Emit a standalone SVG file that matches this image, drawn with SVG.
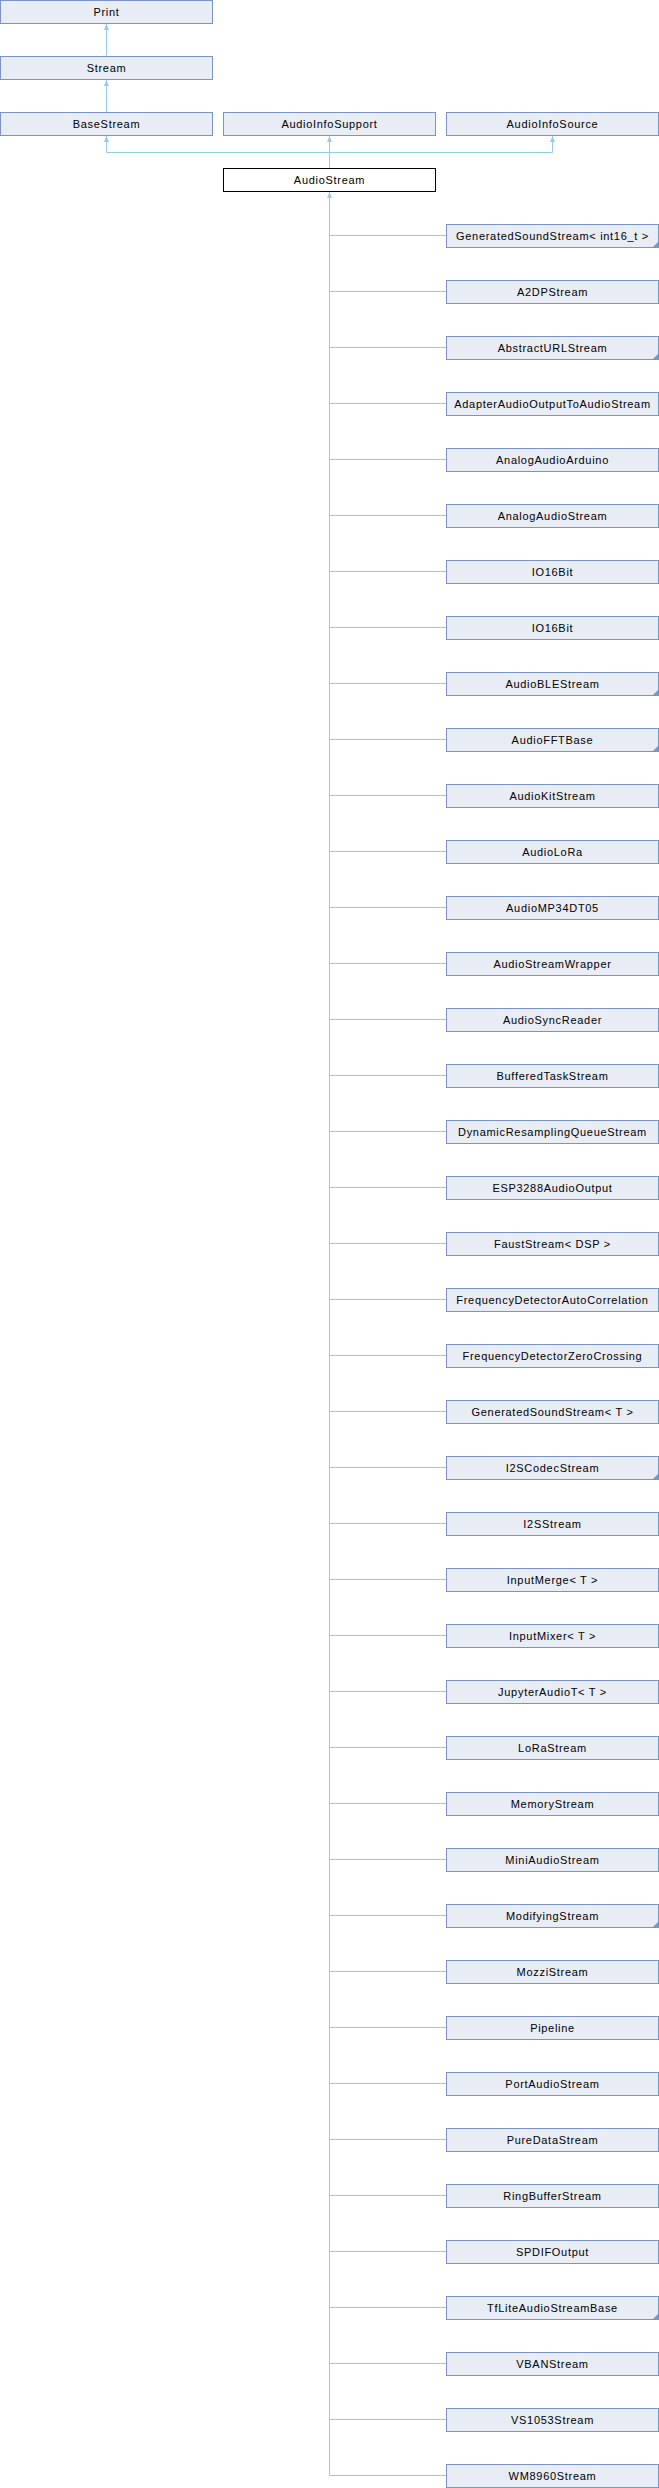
<svg xmlns="http://www.w3.org/2000/svg" width="659" height="2488" viewBox="0 0 659 2488">
<style>
.n rect{fill:#E8ECF5;stroke:#7B93C6;stroke-width:1}
.n.cur rect{fill:#FFFFFF;stroke:#000000}
.n text{font-family:"Liberation Sans",Arial,Helvetica,sans-serif;font-size:11px;letter-spacing:0.7px;fill:#000;text-anchor:middle}
.n polygon{fill:#7B93C6}
#edges path{fill:none;stroke:#93CBEB;stroke-width:1}
</style>
<defs>
<marker id="arr" markerUnits="userSpaceOnUse" viewBox="0 0 6 5" refX="6" refY="2.5" markerWidth="6" markerHeight="5" orient="auto">
<path d="M0,0 L6,2.5 L0,5 z" fill="#93CBEB"/>
</marker>
</defs>
<rect width="659" height="2488" fill="#FFFFFF"/>
<g id="edges">
<path d="M106.5,56 V24" marker-end="url(#arr)"/>
<path d="M106.5,112 V80" marker-end="url(#arr)"/>
<path d="M329.5,168 V136" marker-end="url(#arr)"/>
<path d="M329.5,152.5 H106.5 V136" marker-end="url(#arr)"/>
<path d="M329.5,152.5 H552.5 V136" marker-end="url(#arr)"/>
<path d="M446,2475.5 H329.5 V192" marker-end="url(#arr)"/>
<path d="M446,235.5 H329.5"/><path d="M446,291.5 H329.5"/><path d="M446,347.5 H329.5"/><path d="M446,403.5 H329.5"/>
<path d="M446,459.5 H329.5"/><path d="M446,515.5 H329.5"/><path d="M446,571.5 H329.5"/><path d="M446,627.5 H329.5"/>
<path d="M446,683.5 H329.5"/><path d="M446,739.5 H329.5"/><path d="M446,795.5 H329.5"/><path d="M446,851.5 H329.5"/>
<path d="M446,907.5 H329.5"/><path d="M446,963.5 H329.5"/><path d="M446,1019.5 H329.5"/><path d="M446,1075.5 H329.5"/>
<path d="M446,1131.5 H329.5"/><path d="M446,1187.5 H329.5"/><path d="M446,1243.5 H329.5"/><path d="M446,1299.5 H329.5"/>
<path d="M446,1355.5 H329.5"/><path d="M446,1411.5 H329.5"/><path d="M446,1467.5 H329.5"/><path d="M446,1523.5 H329.5"/>
<path d="M446,1579.5 H329.5"/><path d="M446,1635.5 H329.5"/><path d="M446,1691.5 H329.5"/><path d="M446,1747.5 H329.5"/>
<path d="M446,1803.5 H329.5"/><path d="M446,1859.5 H329.5"/><path d="M446,1915.5 H329.5"/><path d="M446,1971.5 H329.5"/>
<path d="M446,2027.5 H329.5"/><path d="M446,2083.5 H329.5"/><path d="M446,2139.5 H329.5"/><path d="M446,2195.5 H329.5"/>
<path d="M446,2251.5 H329.5"/><path d="M446,2307.5 H329.5"/><path d="M446,2363.5 H329.5"/><path d="M446,2419.5 H329.5"/>
</g>
<g id="Print" class="n"><rect x="0.5" y="0.5" width="212" height="23"/><text x="106.5" y="16">Print</text></g>
<g id="Stream" class="n"><rect x="0.5" y="56.5" width="212" height="23"/><text x="106.5" y="72">Stream</text></g>
<g id="BaseStream" class="n"><rect x="0.5" y="112.5" width="212" height="23"/><text x="106.5" y="128">BaseStream</text></g>
<g id="AudioInfoSupport" class="n"><rect x="223.5" y="112.5" width="212" height="23"/><text x="329.5" y="128">AudioInfoSupport</text></g>
<g id="AudioInfoSource" class="n"><rect x="446.5" y="112.5" width="212" height="23"/><text x="552.5" y="128">AudioInfoSource</text></g>
<g id="AudioStream" class="n cur"><rect x="223.5" y="168.5" width="212" height="23"/><text x="329.5" y="184">AudioStream</text></g>
<g id="c01" class="n"><rect x="446.5" y="224.5" width="212" height="23"/><text x="552.5" y="240">GeneratedSoundStream&lt; int16_t &gt;</text><polygon points="658.5,241.5 658.5,247.5 652.5,247.5"/></g>
<g id="c02" class="n"><rect x="446.5" y="280.5" width="212" height="23"/><text x="552.5" y="296">A2DPStream</text></g>
<g id="c03" class="n"><rect x="446.5" y="336.5" width="212" height="23"/><text x="552.5" y="352">AbstractURLStream</text><polygon points="658.5,353.5 658.5,359.5 652.5,359.5"/></g>
<g id="c04" class="n"><rect x="446.5" y="392.5" width="212" height="23"/><text x="552.5" y="408">AdapterAudioOutputToAudioStream</text></g>
<g id="c05" class="n"><rect x="446.5" y="448.5" width="212" height="23"/><text x="552.5" y="464">AnalogAudioArduino</text></g>
<g id="c06" class="n"><rect x="446.5" y="504.5" width="212" height="23"/><text x="552.5" y="520">AnalogAudioStream</text></g>
<g id="c07" class="n"><rect x="446.5" y="560.5" width="212" height="23"/><text x="552.5" y="576">IO16Bit</text></g>
<g id="c08" class="n"><rect x="446.5" y="616.5" width="212" height="23"/><text x="552.5" y="632">IO16Bit</text></g>
<g id="c09" class="n"><rect x="446.5" y="672.5" width="212" height="23"/><text x="552.5" y="688">AudioBLEStream</text><polygon points="658.5,689.5 658.5,695.5 652.5,695.5"/></g>
<g id="c10" class="n"><rect x="446.5" y="728.5" width="212" height="23"/><text x="552.5" y="744">AudioFFTBase</text><polygon points="658.5,745.5 658.5,751.5 652.5,751.5"/></g>
<g id="c11" class="n"><rect x="446.5" y="784.5" width="212" height="23"/><text x="552.5" y="800">AudioKitStream</text></g>
<g id="c12" class="n"><rect x="446.5" y="840.5" width="212" height="23"/><text x="552.5" y="856">AudioLoRa</text></g>
<g id="c13" class="n"><rect x="446.5" y="896.5" width="212" height="23"/><text x="552.5" y="912">AudioMP34DT05</text></g>
<g id="c14" class="n"><rect x="446.5" y="952.5" width="212" height="23"/><text x="552.5" y="968">AudioStreamWrapper</text></g>
<g id="c15" class="n"><rect x="446.5" y="1008.5" width="212" height="23"/><text x="552.5" y="1024">AudioSyncReader</text></g>
<g id="c16" class="n"><rect x="446.5" y="1064.5" width="212" height="23"/><text x="552.5" y="1080">BufferedTaskStream</text></g>
<g id="c17" class="n"><rect x="446.5" y="1120.5" width="212" height="23"/><text x="552.5" y="1136">DynamicResamplingQueueStream</text></g>
<g id="c18" class="n"><rect x="446.5" y="1176.5" width="212" height="23"/><text x="552.5" y="1192">ESP3288AudioOutput</text></g>
<g id="c19" class="n"><rect x="446.5" y="1232.5" width="212" height="23"/><text x="552.5" y="1248">FaustStream&lt; DSP &gt;</text></g>
<g id="c20" class="n"><rect x="446.5" y="1288.5" width="212" height="23"/><text x="552.5" y="1304">FrequencyDetectorAutoCorrelation</text></g>
<g id="c21" class="n"><rect x="446.5" y="1344.5" width="212" height="23"/><text x="552.5" y="1360">FrequencyDetectorZeroCrossing</text></g>
<g id="c22" class="n"><rect x="446.5" y="1400.5" width="212" height="23"/><text x="552.5" y="1416">GeneratedSoundStream&lt; T &gt;</text></g>
<g id="c23" class="n"><rect x="446.5" y="1456.5" width="212" height="23"/><text x="552.5" y="1472">I2SCodecStream</text><polygon points="658.5,1473.5 658.5,1479.5 652.5,1479.5"/></g>
<g id="c24" class="n"><rect x="446.5" y="1512.5" width="212" height="23"/><text x="552.5" y="1528">I2SStream</text></g>
<g id="c25" class="n"><rect x="446.5" y="1568.5" width="212" height="23"/><text x="552.5" y="1584">InputMerge&lt; T &gt;</text></g>
<g id="c26" class="n"><rect x="446.5" y="1624.5" width="212" height="23"/><text x="552.5" y="1640">InputMixer&lt; T &gt;</text></g>
<g id="c27" class="n"><rect x="446.5" y="1680.5" width="212" height="23"/><text x="552.5" y="1696">JupyterAudioT&lt; T &gt;</text></g>
<g id="c28" class="n"><rect x="446.5" y="1736.5" width="212" height="23"/><text x="552.5" y="1752">LoRaStream</text></g>
<g id="c29" class="n"><rect x="446.5" y="1792.5" width="212" height="23"/><text x="552.5" y="1808">MemoryStream</text></g>
<g id="c30" class="n"><rect x="446.5" y="1848.5" width="212" height="23"/><text x="552.5" y="1864">MiniAudioStream</text></g>
<g id="c31" class="n"><rect x="446.5" y="1904.5" width="212" height="23"/><text x="552.5" y="1920">ModifyingStream</text><polygon points="658.5,1921.5 658.5,1927.5 652.5,1927.5"/></g>
<g id="c32" class="n"><rect x="446.5" y="1960.5" width="212" height="23"/><text x="552.5" y="1976">MozziStream</text></g>
<g id="c33" class="n"><rect x="446.5" y="2016.5" width="212" height="23"/><text x="552.5" y="2032">Pipeline</text></g>
<g id="c34" class="n"><rect x="446.5" y="2072.5" width="212" height="23"/><text x="552.5" y="2088">PortAudioStream</text></g>
<g id="c35" class="n"><rect x="446.5" y="2128.5" width="212" height="23"/><text x="552.5" y="2144">PureDataStream</text></g>
<g id="c36" class="n"><rect x="446.5" y="2184.5" width="212" height="23"/><text x="552.5" y="2200">RingBufferStream</text></g>
<g id="c37" class="n"><rect x="446.5" y="2240.5" width="212" height="23"/><text x="552.5" y="2256">SPDIFOutput</text></g>
<g id="c38" class="n"><rect x="446.5" y="2296.5" width="212" height="23"/><text x="552.5" y="2312">TfLiteAudioStreamBase</text><polygon points="658.5,2313.5 658.5,2319.5 652.5,2319.5"/></g>
<g id="c39" class="n"><rect x="446.5" y="2352.5" width="212" height="23"/><text x="552.5" y="2368">VBANStream</text></g>
<g id="c40" class="n"><rect x="446.5" y="2408.5" width="212" height="23"/><text x="552.5" y="2424">VS1053Stream</text></g>
<g id="c41" class="n"><rect x="446.5" y="2464.5" width="212" height="23"/><text x="552.5" y="2480">WM8960Stream</text></g>
</svg>
